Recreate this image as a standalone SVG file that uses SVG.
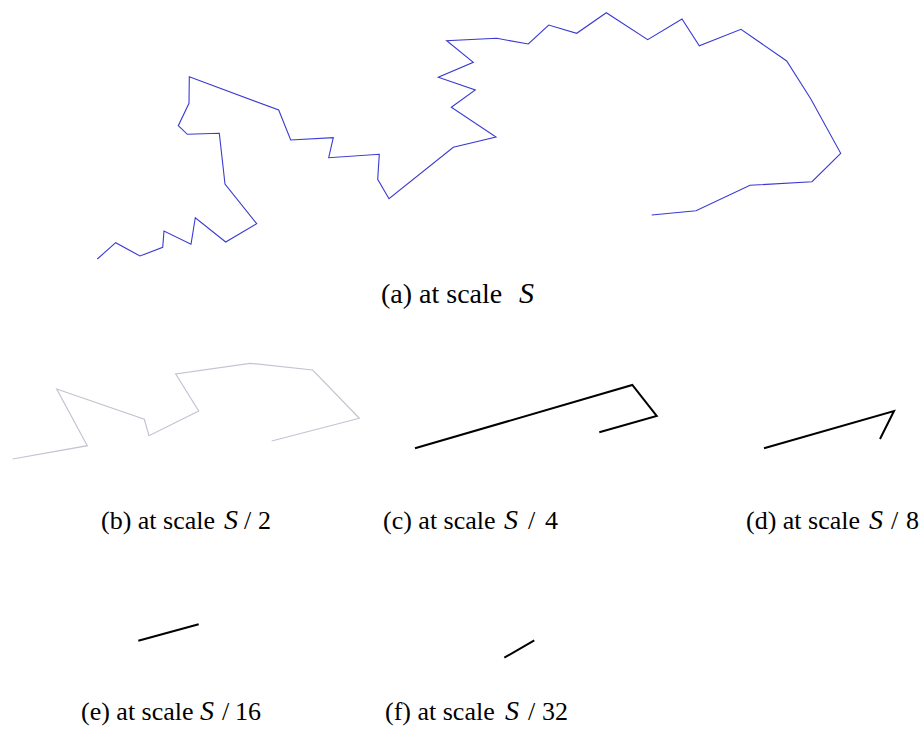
<svg xmlns="http://www.w3.org/2000/svg" width="924" height="736" viewBox="0 0 924 736">
<style>
text{font-family:"Liberation Serif","Times New Roman",serif;fill:#000}
.big{font-size:28px}
.lbl{font-size:26px}
.it{font-style:italic}
.big .it{font-size:30px}
.lbl .it{font-size:28px}
.blue{fill:none;stroke:#3a3ad2;stroke-width:1.1;stroke-linejoin:miter}
.grey{fill:none;stroke:#c9c1d2;stroke-width:1.2}
.blk{fill:none;stroke:#000;stroke-width:2}
</style>
<rect width="924" height="736" fill="#fff"/>
<g id="connectors">
<polyline id="curve-a" class="blue" points="97.3,259 115.7,242.7 140,256 162.7,247.3 164,231 191,244.3 195.3,217.7 225.7,242 256.7,223.7 225,184 219.3,133.3 187.3,134.3 178.3,125.7 189,103.3 189.3,76.7 278.7,110 290.7,140 333.3,137.7 328.7,157.7 379.3,154.3 377.7,179.3 389,198.7 453.3,147.3 496,137 451.3,107.3 475.3,90 438.3,77.3 473.3,62.3 446.7,40.7 496.7,38.3 528.3,44 548.7,25 576.7,33.3 606.3,12.7 647.7,39.7 682,19 699.3,45.7 741,29.3 786.7,61 810.7,98.7 840.7,153.3 812,181.7 750,185.3 696,210.7 651.7,215"/>
<polyline id="curve-b" class="grey" points="12.7,459 87.3,445.7 56.7,389 144.3,419.3 149,435.7 198.7,411 175.7,374 250,363.3 312.7,370 359.3,418.3 271.7,441"/>
<polyline id="curve-c" class="blk" points="415,448.3 632.3,385 656.7,416 599.3,432.3"/>
<polyline id="curve-d" class="blk" points="764,448.3 894,411 880,439"/>
<polyline id="curve-e" class="blk" points="138.3,640.7 198.7,624.3"/>
<polyline id="curve-f" class="blk" points="504.3,657.7 534.3,640.3"/>
</g>
<g id="label-a"><text class="big" x="381" y="303">(a) at scale <tspan class="it" x="519">S</tspan></text></g>
<g id="label-b"><text class="lbl" x="101" y="529">(b) at scale <tspan class="it" x="224">S</tspan><tspan x="244">/</tspan><tspan x="258">2</tspan></text></g>
<g id="label-c"><text class="lbl" x="383" y="529">(c) at scale <tspan class="it" x="504">S</tspan><tspan x="528">/</tspan><tspan x="545">4</tspan></text></g>
<g id="label-d"><text class="lbl" x="746" y="529">(d) at scale <tspan class="it" x="869">S</tspan><tspan x="891">/</tspan><tspan x="906">8</tspan></text></g>
<g id="label-e"><text class="lbl" x="81" y="720">(e) at scale <tspan class="it" x="200">S</tspan><tspan x="222">/</tspan><tspan x="235">16</tspan></text></g>
<g id="label-f"><text class="lbl" x="385" y="720">(f) at scale <tspan class="it" x="505">S</tspan><tspan x="528">/</tspan><tspan x="542">32</tspan></text></g>
</svg>
